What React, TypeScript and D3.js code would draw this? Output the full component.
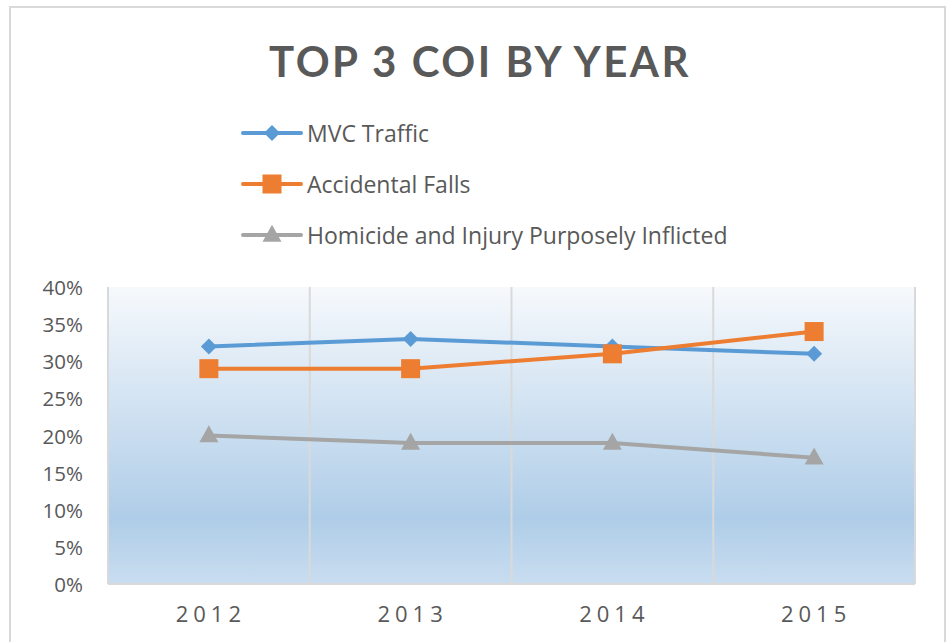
import React from "react";
import * as d3 from "d3";

const years = ["2012", "2013", "2014", "2015"];
const mvcTraffic = [0.32, 0.33, 0.32, 0.31];
const accidentalFalls = [0.29, 0.29, 0.31, 0.34];
const homicide = [0.2, 0.19, 0.19, 0.17];
const seriesNames = ["MVC Traffic", "Accidental Falls", "Homicide and Injury Purposely Inflicted"];
const yTicks = [0, 0.05, 0.1, 0.15, 0.2, 0.25, 0.3, 0.35, 0.4];

const colors = ["#5b9bd5", "#ed7d31", "#a5a5a5"];
const markers = ["diamond", "square", "triangle"];
const FONT = "Lato, 'Open Sans', sans-serif";
const FONT2 = "'Open Sans', Lato, sans-serif";
const TXT = "#595959";

function Marker({ type, x, y, color }: { type: string; x: number; y: number; color: string }) {
  if (type === "diamond") {
    const r = 8;
    return <path d={`M${x},${y - r}L${x + r},${y}L${x},${y + r}L${x - r},${y}Z`} fill={color} />;
  }
  if (type === "square") {
    const s = 19;
    return <rect x={x - s / 2} y={y - s / 2} width={s} height={s} fill={color} />;
  }
  const h = 17, w = 19;
  return <path d={`M${x},${y - h * 0.6}L${x + w / 2},${y + h * 0.4}L${x - w / 2},${y + h * 0.4}Z`} fill={color} />;
}

export default function App() {
  const left = 108, right = 915, top = 287, bottom = 584;
  const x = d3.scaleBand().domain(years).range([left, right]);
  const y = d3.scaleLinear().domain([0, 0.4]).range([bottom, top]);
  const data = [mvcTraffic, accidentalFalls, homicide];
  const line = d3
    .line<number>()
    .x((_, i) => (x(years[i]) as number) + x.bandwidth() / 2)
    .y((d) => y(d));
  const fmt = d3.format(".0%");
  const bounds = [...years.map((yr) => x(yr) as number), right];

  return (
    <svg
      width={950}
      height={642}
      style={{ position: "absolute", left: 0, top: 0, background: "#fff" }}
      fontFamily={FONT2}
    >
      <defs>
        <linearGradient id="bg" x1="0" y1="0" x2="0" y2="1">
          <stop offset="0" stopColor="#f6f9fc" />
          <stop offset="0.78" stopColor="#afcde8" />
          <stop offset="1" stopColor="#c9ddf0" />
        </linearGradient>
      </defs>
      <rect x={10} y={7} width={935} height={650} fill="#fff" stroke="#d9d9d9" strokeWidth={2} />
      <text
        x={480}
        y={77}
        textAnchor="middle"
        fontSize={42}
        fontWeight="bold"
        fill={TXT}
        letterSpacing={2.5}
        fontFamily={FONT}
      >
        TOP 3 COI BY YEAR
      </text>
      {seriesNames.map((name, i) => {
        const ly = 133 + i * 51;
        return (
          <g key={name}>
            <line x1={243} x2={301} y1={ly} y2={ly} stroke={colors[i]} strokeWidth={4} strokeLinecap="round" />
            <Marker type={markers[i]} x={272} y={ly} color={colors[i]} />
            <text x={307} y={ly + 8.5} fontSize={23} fill={TXT}>
              {name}
            </text>
          </g>
        );
      })}
      <rect x={left} y={top} width={right - left} height={bottom - top} fill="url(#bg)" />
      {bounds.map((b, i) => (
        <line key={i} x1={b} x2={b} y1={top} y2={bottom} stroke="#d9d9d9" strokeWidth={2} />
      ))}
      <line x1={left} x2={right} y1={bottom} y2={bottom} stroke="#d9d9d9" strokeWidth={2} />
      {yTicks.map((t) => (
        <text key={t} x={83} y={y(t) + 8} textAnchor="end" fontSize={20.5} fill={TXT}>
          {fmt(t)}
        </text>
      ))}
      {years.map((yr) => (
        <text
          key={yr}
          x={(x(yr) as number) + x.bandwidth() / 2 + 2}
          y={622}
          textAnchor="middle"
          fontSize={22}
          fill={TXT}
          letterSpacing={5}
        >
          {yr}
        </text>
      ))}
      {data.map((s, i) => (
        <g key={i}>
          <path d={line(s) as string} fill="none" stroke={colors[i]} strokeWidth={4} strokeLinejoin="round" />
          {s.map((v, j) => (
            <Marker key={j} type={markers[i]} x={(x(years[j]) as number) + x.bandwidth() / 2} y={y(v)} color={colors[i]} />
          ))}
        </g>
      ))}
    </svg>
  );
}
